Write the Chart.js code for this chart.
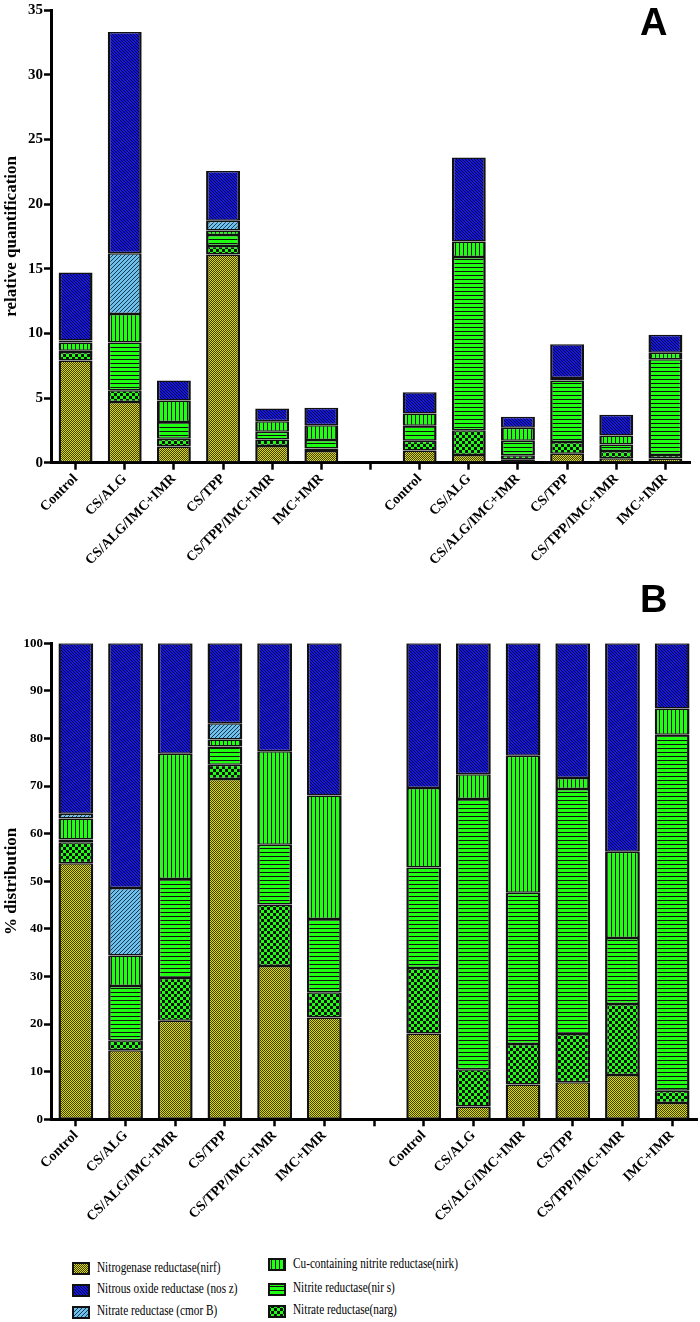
<!DOCTYPE html>
<html>
<head>
<meta charset="utf-8">
<script src="https://cdn.jsdelivr.net/npm/chart.js@4.4.0/dist/chart.umd.min.js"></script>
<style>
  body { margin: 0; background: #fff; width: 700px; height: 1322px; position: relative; overflow: hidden; }
  canvas.chart { position: absolute; left: 0; }
  .panel { position: absolute; font-family: "Liberation Sans", Arial, sans-serif; font-weight: bold; font-size: 38px; line-height: 38px; color: #000; }
  .item { position: absolute; font-family: "Liberation Serif", "Times New Roman", serif; font-size: 15px; line-height: 15px; white-space: nowrap; transform: scaleX(0.75); transform-origin: 0 0; color: #000; }
  canvas.sw { position: absolute; }
</style>
</head>
<body>
<canvas id="chartA" class="chart" width="700" height="565" style="top:0"></canvas>
<canvas id="chartB" class="chart" width="700" height="690" style="top:565px"></canvas>
<div class="panel" style="left:640px; top:3px">A</div>
<div class="panel" style="left:640px; top:580px">B</div>
<div id="legend"></div>
<script>
// groups, with an empty slot between the two sets
const groups = ['Control', 'CS/ALG', 'CS/ALG/IMC+IMR', 'CS/TPP', 'CS/TPP/IMC+IMR', 'IMC+IMR', '',
                'Control', 'CS/ALG', 'CS/ALG/IMC+IMR', 'CS/TPP', 'CS/TPP/IMC+IMR', 'IMC+IMR'];

// A: relative quantification (stack segments, bottom to top)
const aNirf  = [7.9, 4.7, 1.25, 16.1, 1.3, 0.9, null, 0.95, 0.6, 0.27, 0.7, 0.35, 0.33];
const aNarg  = [0.65, 0.9, 0.6, 0.65, 0.5, 0.2, null, 0.75, 1.9, 0.3, 0.9, 0.55, 0.27];
const aNirs  = [0.1, 3.7, 1.3, 0.85, 0.6, 0.65, null, 1.15, 13.4, 1.12, 4.75, 0.5, 7.4];
const aNirk  = [0.65, 2.2, 1.65, 0.35, 0.8, 1.15, null, 0.95, 1.2, 1.02, 0.2, 0.7, 0.5];
const aCmorB = [0.15, 4.7, 0, 0.75, 0, 0, null, 0, 0, 0, 0, 0, 0];
const aNosz  = [5.25, 17.1, 1.55, 3.85, 1.0, 1.35, null, 1.65, 6.5, 0.84, 2.6, 1.6, 1.4];

// B: % distribution
const bNirf  = [53.8, 14.5, 20.7, 71.5, 32.2, 21.4, null, 18.0, 2.7, 7.3, 7.8, 9.3, 3.4];
const bNarg  = [4.4, 2.1, 9.0, 3.0, 12.9, 5.3, null, 13.8, 7.8, 8.5, 10.1, 14.9, 2.6];
const bNirs  = [0.6, 11.4, 20.8, 3.8, 12.6, 15.4, null, 21.1, 56.8, 31.8, 51.5, 13.9, 74.8];
const bNirk  = [4.4, 6.4, 26.3, 1.5, 19.6, 25.9, null, 16.7, 5.2, 28.8, 2.3, 18.1, 5.5];
const bCmorB = [1.0, 14.2, 0, 3.4, 0, 0, null, 0, 0, 0, 0, 0, 0];
const bNosz  = [35.8, 51.4, 23.2, 16.8, 22.7, 32.0, null, 30.4, 27.5, 23.6, 28.3, 43.8, 13.7];

const seriesNames = ['Nitrogenase reductase(nirf)', 'Nitrate reductase(narg)', 'Nitrite reductase(nir s)',
                     'Cu-containing nitrite reductase(nirk)', 'Nitrate reductase (cmor B)', 'Nitrous oxide reductase (nos z)'];

function tile(w, h, draw) {
  const c = document.createElement('canvas');
  c.width = w; c.height = h;
  draw(c.getContext('2d'));
  return c;
}
const GREEN = '#1eff12';
const tiles = [
  tile(2, 2, g => { g.fillStyle = '#dede00'; g.fillRect(0, 0, 2, 2); g.fillStyle = '#3a3a00'; g.fillRect(1, 0, 1, 1); g.fillRect(0, 1, 1, 1); }),
  tile(6, 6, g => { g.fillStyle = '#111'; g.fillRect(0, 0, 6, 6); g.fillStyle = GREEN; g.fillRect(0, 0, 3, 3); g.fillRect(3, 3, 3, 3); }),
  tile(4, 4, g => { g.fillStyle = GREEN; g.fillRect(0, 0, 4, 4); g.fillStyle = '#111'; g.fillRect(0, 3, 4, 1); }),
  tile(4, 4, g => { g.fillStyle = GREEN; g.fillRect(0, 0, 4, 4); g.fillStyle = '#111'; g.fillRect(3, 0, 1, 4); }),
  tile(4, 4, g => { g.fillStyle = '#6ec0ec'; g.fillRect(0, 0, 4, 4); g.fillStyle = '#1c3a52'; for (let i = 0; i < 4; i++) g.fillRect(3 - i, i, 1, 1); }),
  tile(3, 3, g => { g.fillStyle = '#1818d8'; g.fillRect(0, 0, 3, 3); g.fillStyle = '#00004a'; for (let i = 0; i < 3; i++) g.fillRect(i, i, 1, 1); })
];

function makeChart(id, values, yMax, yStep, yTitle, area, barPct, tickSize) {
  const canvas = document.getElementById(id);
  const ctx = canvas.getContext('2d');
  const serif = "'Liberation Serif', 'Times New Roman', serif";
  return new Chart(ctx, {
    type: 'bar',
    data: {
      labels: groups,
      datasets: values.map((v, i) => ({
        label: seriesNames[i],
        data: v,
        backgroundColor: ctx.createPattern(tiles[i], 'repeat'),
        borderColor: '#111',
        borderWidth: { top: 1.5, bottom: 1.5, left: 2.5, right: 2.5 },
        borderSkipped: false,
        categoryPercentage: 1,
        barPercentage: barPct
      }))
    },
    options: {
      responsive: false,
      animation: false,
      layout: { padding: { top: area.top, left: 0, right: canvas.width - area.right, bottom: 0 } },
      plugins: { legend: { display: false }, tooltip: { enabled: false } },
      scales: {
        x: {
          stacked: true,
          offset: true,
          afterFit: s => { s.height = canvas.height - area.bottom; },
          border: { display: true, color: '#000', width: 3 },
          grid: { display: true, offset: false, drawOnChartArea: false, drawTicks: true, tickLength: 7, tickWidth: 2.5, tickColor: '#000' },
          ticks: { autoSkip: false, maxRotation: 45, minRotation: 45, padding: 1, color: '#000',
                   font: { family: serif, weight: 'bold', size: 14 } }
        },
        y: {
          stacked: true,
          min: 0,
          max: yMax,
          afterFit: s => { s.width = area.left; },
          border: { display: true, color: '#000', width: 3 },
          grid: { display: true, drawOnChartArea: false, drawTicks: true, tickLength: 7, tickWidth: 2.5, tickColor: '#000' },
          ticks: { stepSize: yStep, padding: 1, color: '#000', font: { family: serif, weight: 'bold', size: tickSize } },
          title: { display: true, text: yTitle, color: '#000', padding: { top: 1, bottom: 0 },
                   font: { family: serif, weight: 'bold', size: 17 } }
        }
      }
    }
  });
}

makeChart('chartA', [aNirf, aNarg, aNirs, aNirk, aCmorB, aNosz], 35, 5, 'relative quantification',
          { top: 7, bottom: 462.7, left: 51, right: 690 }, 0.69, 15);
makeChart('chartB', [bNirf, bNarg, bNirs, bNirk, bCmorB, bNosz], 100, 10, '% distribution',
          { top: 78.3, bottom: 554.3, left: 51, right: 697 }, 0.70, 13);

// legend: two columns, drawn as swatch + text
const legendRows = [
  { s: 0, x: 72, y: 1262, t: 1260 }, { s: 5, x: 72, y: 1284, t: 1281 }, { s: 4, x: 72, y: 1306, t: 1303 },
  { s: 3, x: 268, y: 1258, t: 1256 }, { s: 2, x: 268, y: 1283, t: 1280 }, { s: 1, x: 268, y: 1305, t: 1302 }
];
const legend = document.getElementById('legend');
legendRows.forEach(r => {
  const c = document.createElement('canvas');
  c.className = 'sw';
  c.width = 18; c.height = 13;
  c.style.left = r.x + 'px'; c.style.top = r.y + 'px';
  const g = c.getContext('2d');
  g.fillStyle = '#111'; g.fillRect(0, 0, 18, 13);
  g.fillStyle = g.createPattern(tiles[r.s], 'repeat'); g.fillRect(2, 2, 14, 9);
  legend.appendChild(c);
  const d = document.createElement('div');
  d.className = 'item';
  d.style.left = (r.x + 25) + 'px'; d.style.top = r.t + 'px';
  d.textContent = seriesNames[r.s];
  legend.appendChild(d);
});
</script>
</body>
</html>
